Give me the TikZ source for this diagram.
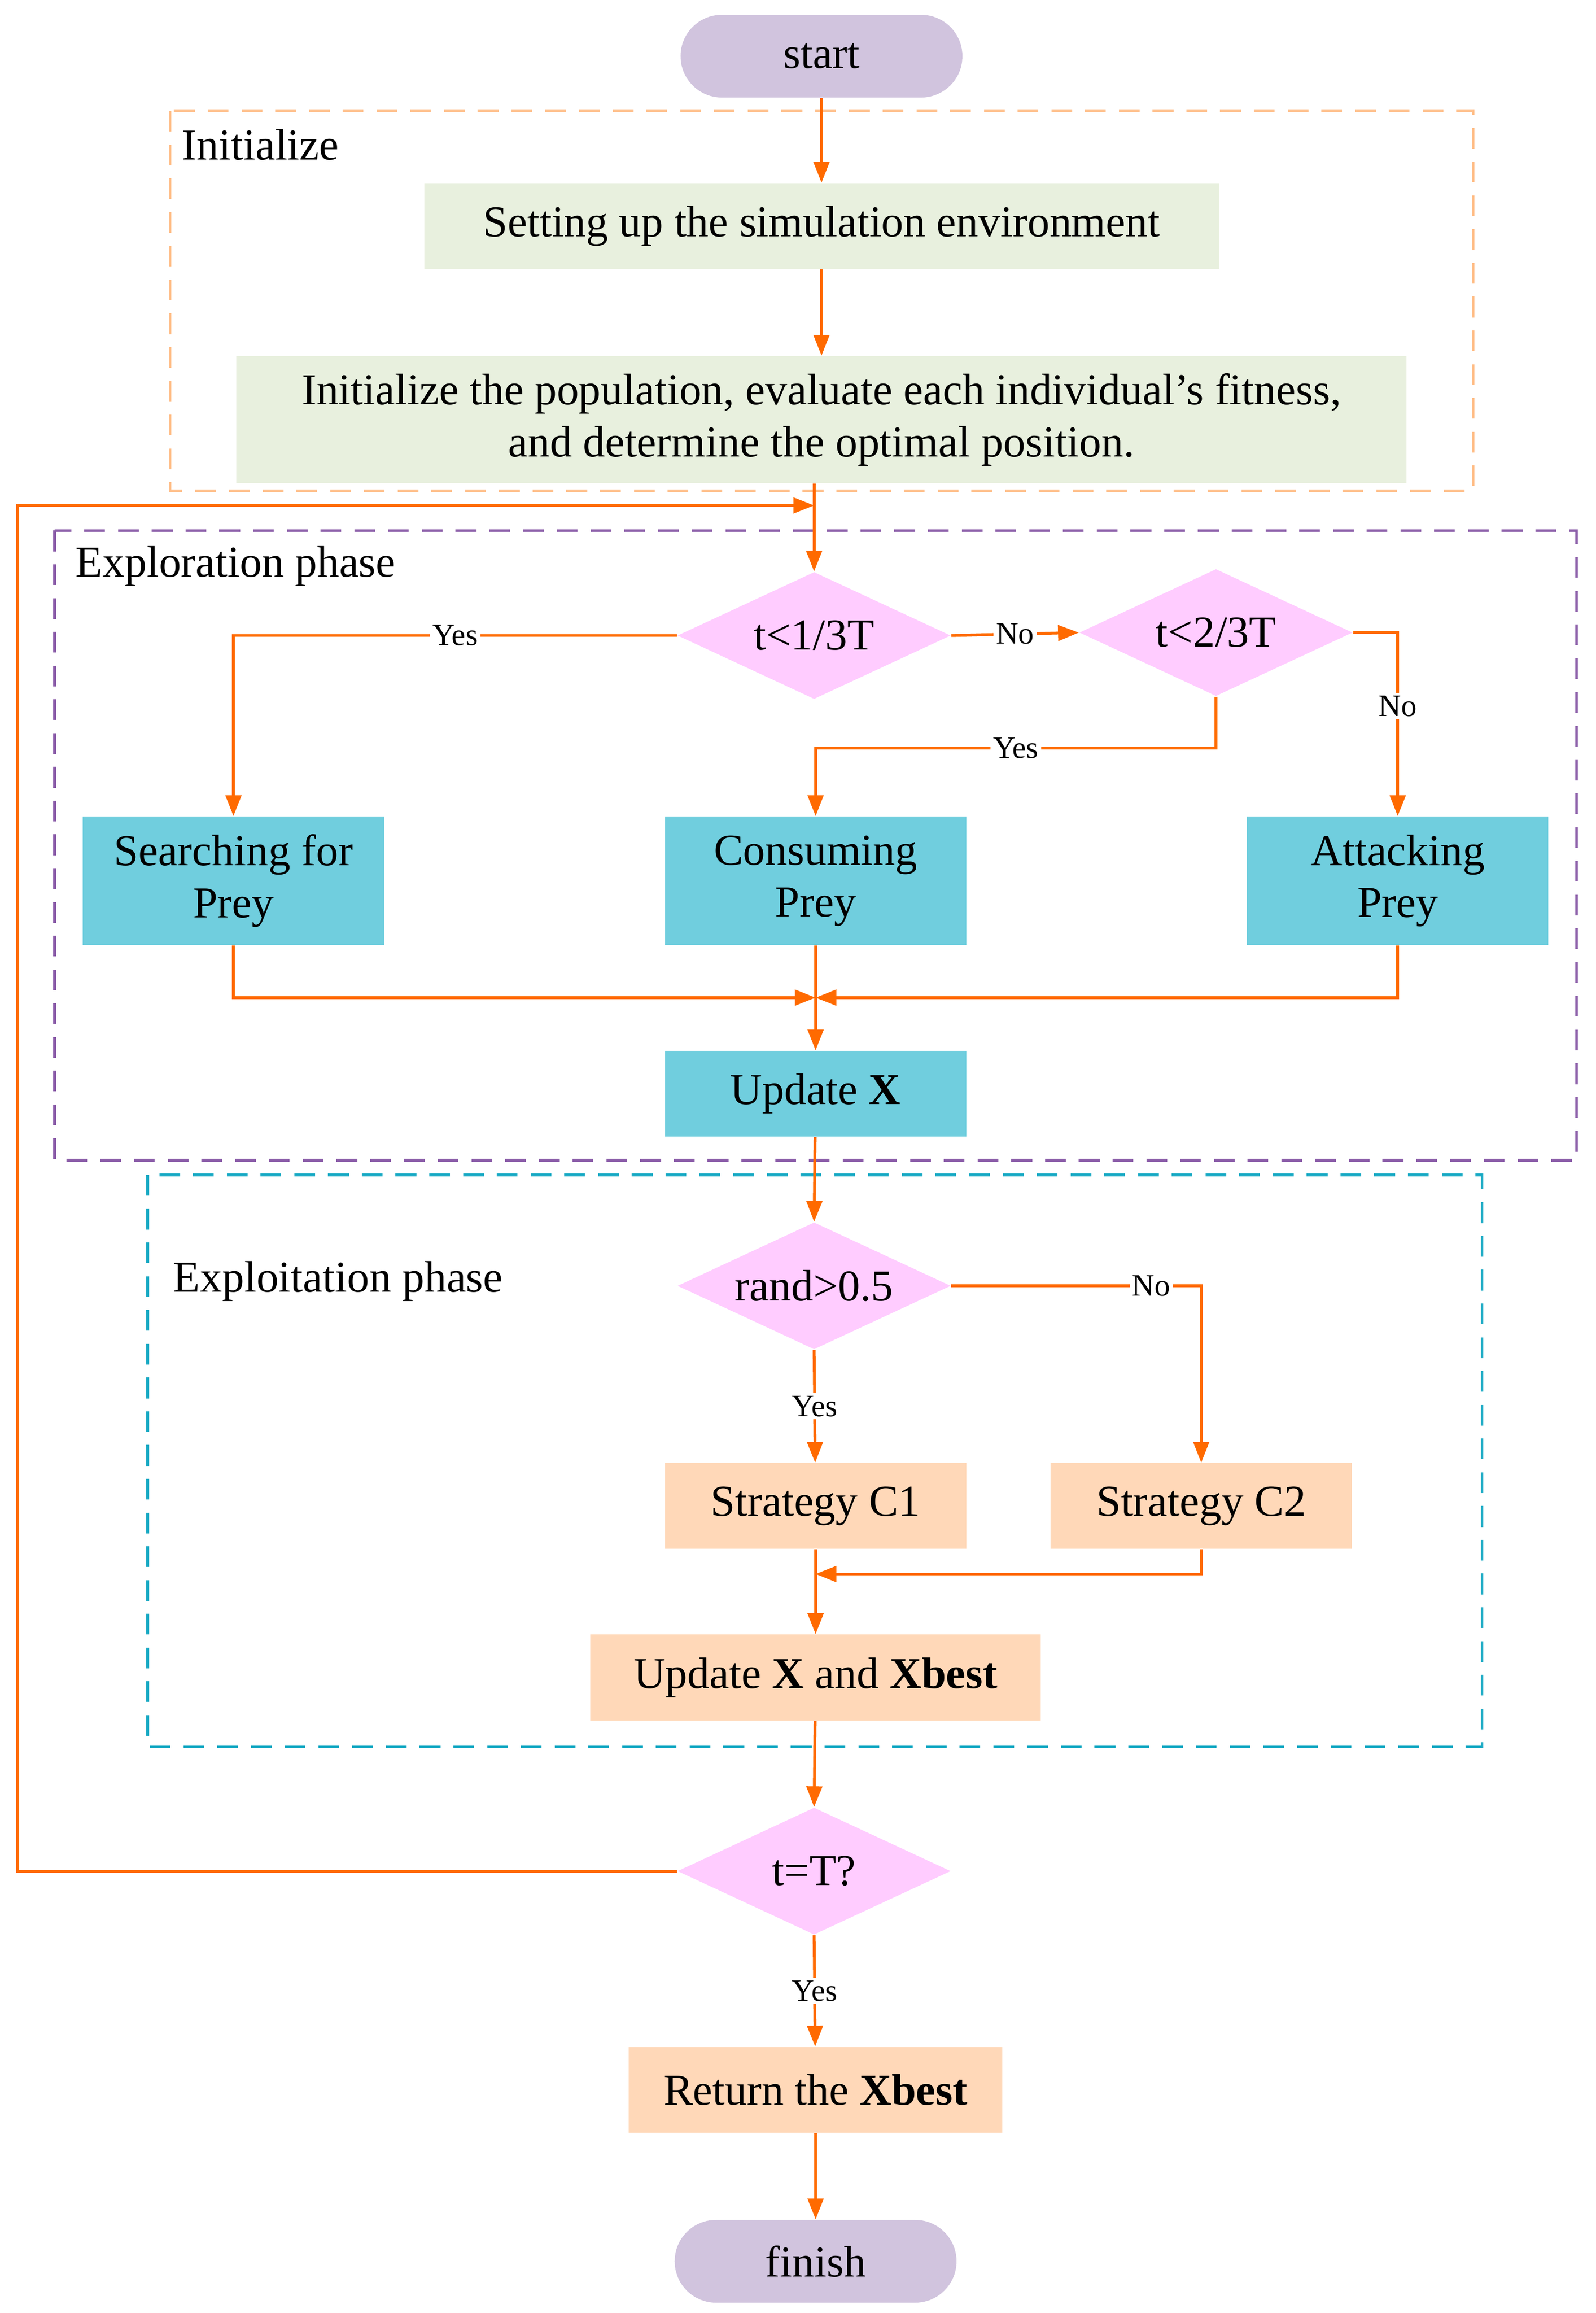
\documentclass[tikz,border=0pt]{standalone}
\usepackage{fontspec}
\setmainfont{Liberation Serif}
\usetikzlibrary{shapes.geometric,shapes.misc,arrows.meta}
\definecolor{pill}{HTML}{D1C4DE}
\definecolor{initbg}{HTML}{E8F0DE}
\definecolor{dia}{HTML}{FFCCFF}
\definecolor{cyanbox}{HTML}{70CEDE}
\definecolor{peach}{HTML}{FFD8B8}
\definecolor{flow}{HTML}{FF6A00}
\definecolor{initline}{HTML}{FFC08C}
\definecolor{exploline}{HTML}{8A5CA8}
\definecolor{exploitline}{HTML}{1AAAC4}
\tikzset{
  term/.style={rounded rectangle, fill=pill, minimum width=4.05cm, minimum height=1.12cm, font=\fontsize{17}{20}\selectfont},
  proc/.style={rectangle, minimum height=1.16cm, font=\fontsize{17}{20}\selectfont, align=center},
  dec/.style={diamond, fill=dia, aspect=2.15, minimum width=3.7cm, minimum height=1.72cm, inner sep=1pt, font=\fontsize{17}{20}\selectfont},
  flowline/.style={draw=flow, line width=1.1pt, -{Triangle[length=8pt,width=6pt]}},
  lab/.style={fill=white, inner sep=1pt, font=\fontsize{12}{14}\selectfont},
  group/.style={line width=1pt, dash pattern=on 8pt off 5pt},
}
\begin{document}
\begin{tikzpicture}[x=0.02cm, y=-0.02cm]
\useasboundingbox (0,0) rectangle (1080,1565);

% dashed groups
\draw[group, draw=initline] (115,75) rectangle (997,332);
\node[anchor=west, font=\fontsize{17}{20}\selectfont] (initlab) at (117,98) {Initialize};
\draw[group, draw=exploline] (37,359) rectangle (1067,785);
\node[anchor=west, font=\fontsize{17}{20}\selectfont] (explolab) at (45,383) {Exploration phase};
\draw[group, draw=exploitline] (100,795) rectangle (1003,1182);
\node[anchor=west, font=\fontsize{17}{20}\selectfont] (exploitlab) at (111,867) {Exploitation phase};

% nodes
\node[term] (start) at (556,38) {start};
\node[proc, fill=initbg, minimum width=10.76cm] (setup) at (556,153) {Setting up the simulation environment};
\node[proc, fill=initbg, minimum width=15.84cm, minimum height=1.72cm] (initpop) at (556,284)
  {Initialize the population, evaluate each individual's fitness,\\and determine the optimal position.};
\coordinate (merge) at (551,342);
\node[dec] (d1) at (551,430) {t<1/3T};
\node[dec] (d2) at (823,428) {t<2/3T};
\node[proc, fill=cyanbox, minimum width=4.08cm, minimum height=1.74cm] (search) at (158,596) {Searching for\\Prey};
\node[proc, fill=cyanbox, minimum width=4.08cm, minimum height=1.74cm] (consume) at (552,596) {Consuming\\Prey};
\node[proc, fill=cyanbox, minimum width=4.08cm, minimum height=1.74cm] (attack) at (946,596) {Attacking\\Prey};
\coordinate (join1) at (552,675);
\node[proc, fill=cyanbox, minimum width=4.08cm] (updx) at (552,740) {Update \textbf{X}};
\node[dec] (d3) at (551,870) {rand>0.5};
\node[proc, fill=peach, minimum width=4.08cm] (c1) at (552,1019) {Strategy C1};
\node[proc, fill=peach, minimum width=4.08cm] (c2) at (813,1019) {Strategy C2};
\coordinate (join2) at (552,1065);
\node[proc, fill=peach, minimum width=6.1cm] (updxb) at (552,1135) {Update \textbf{X} and \textbf{Xbest}};
\node[dec] (d4) at (551,1266) {t=T?};
\node[proc, fill=peach, minimum width=5.06cm] (ret) at (552,1414) {Return the \textbf{Xbest}};
\node[term] (finish) at (552,1530) {finish};

% connectors
\draw[flowline] (start) -- (setup);
\draw[flowline] (setup) -- (initpop);
\draw[draw=flow, line width=1.1pt] (initpop.south -| merge) -- (merge);
\draw[flowline] (d4.west) -| (12,342) -- (merge);
\draw[flowline] (merge) -- (d1.north);
\draw[flowline] (d1.west) -| node[lab, pos=0.25] {Yes} (search.north);
\draw[flowline] (d1.east) -- node[lab] {No} (d2.west);
\draw[flowline] (d2.south) |- (823,506) -| node[lab, pos=0.25] {Yes} (consume.north);
\draw[flowline] (d2.east) -| node[lab, pos=0.7] {No} (attack.north);
\draw[flowline] (search.south) |- (join1);
\draw[flowline] (attack.south) |- (join1);
\draw[flowline] (consume) -- (updx);
\draw[flowline] (updx) -- (d3.north);
\draw[flowline] (d3.south) -- node[lab] {Yes} (c1);
\draw[flowline] (d3.east) -| node[lab, pos=0.4] {No} (c2.north);
\draw[flowline] (c2.south) |- (join2);
\draw[flowline] (c1) -- (updxb);
\draw[flowline] (updxb) -- (d4.north);
\draw[flowline] (d4.south) -- node[lab] {Yes} (ret);
\draw[flowline] (ret) -- (finish);
\end{tikzpicture}
\end{document}
